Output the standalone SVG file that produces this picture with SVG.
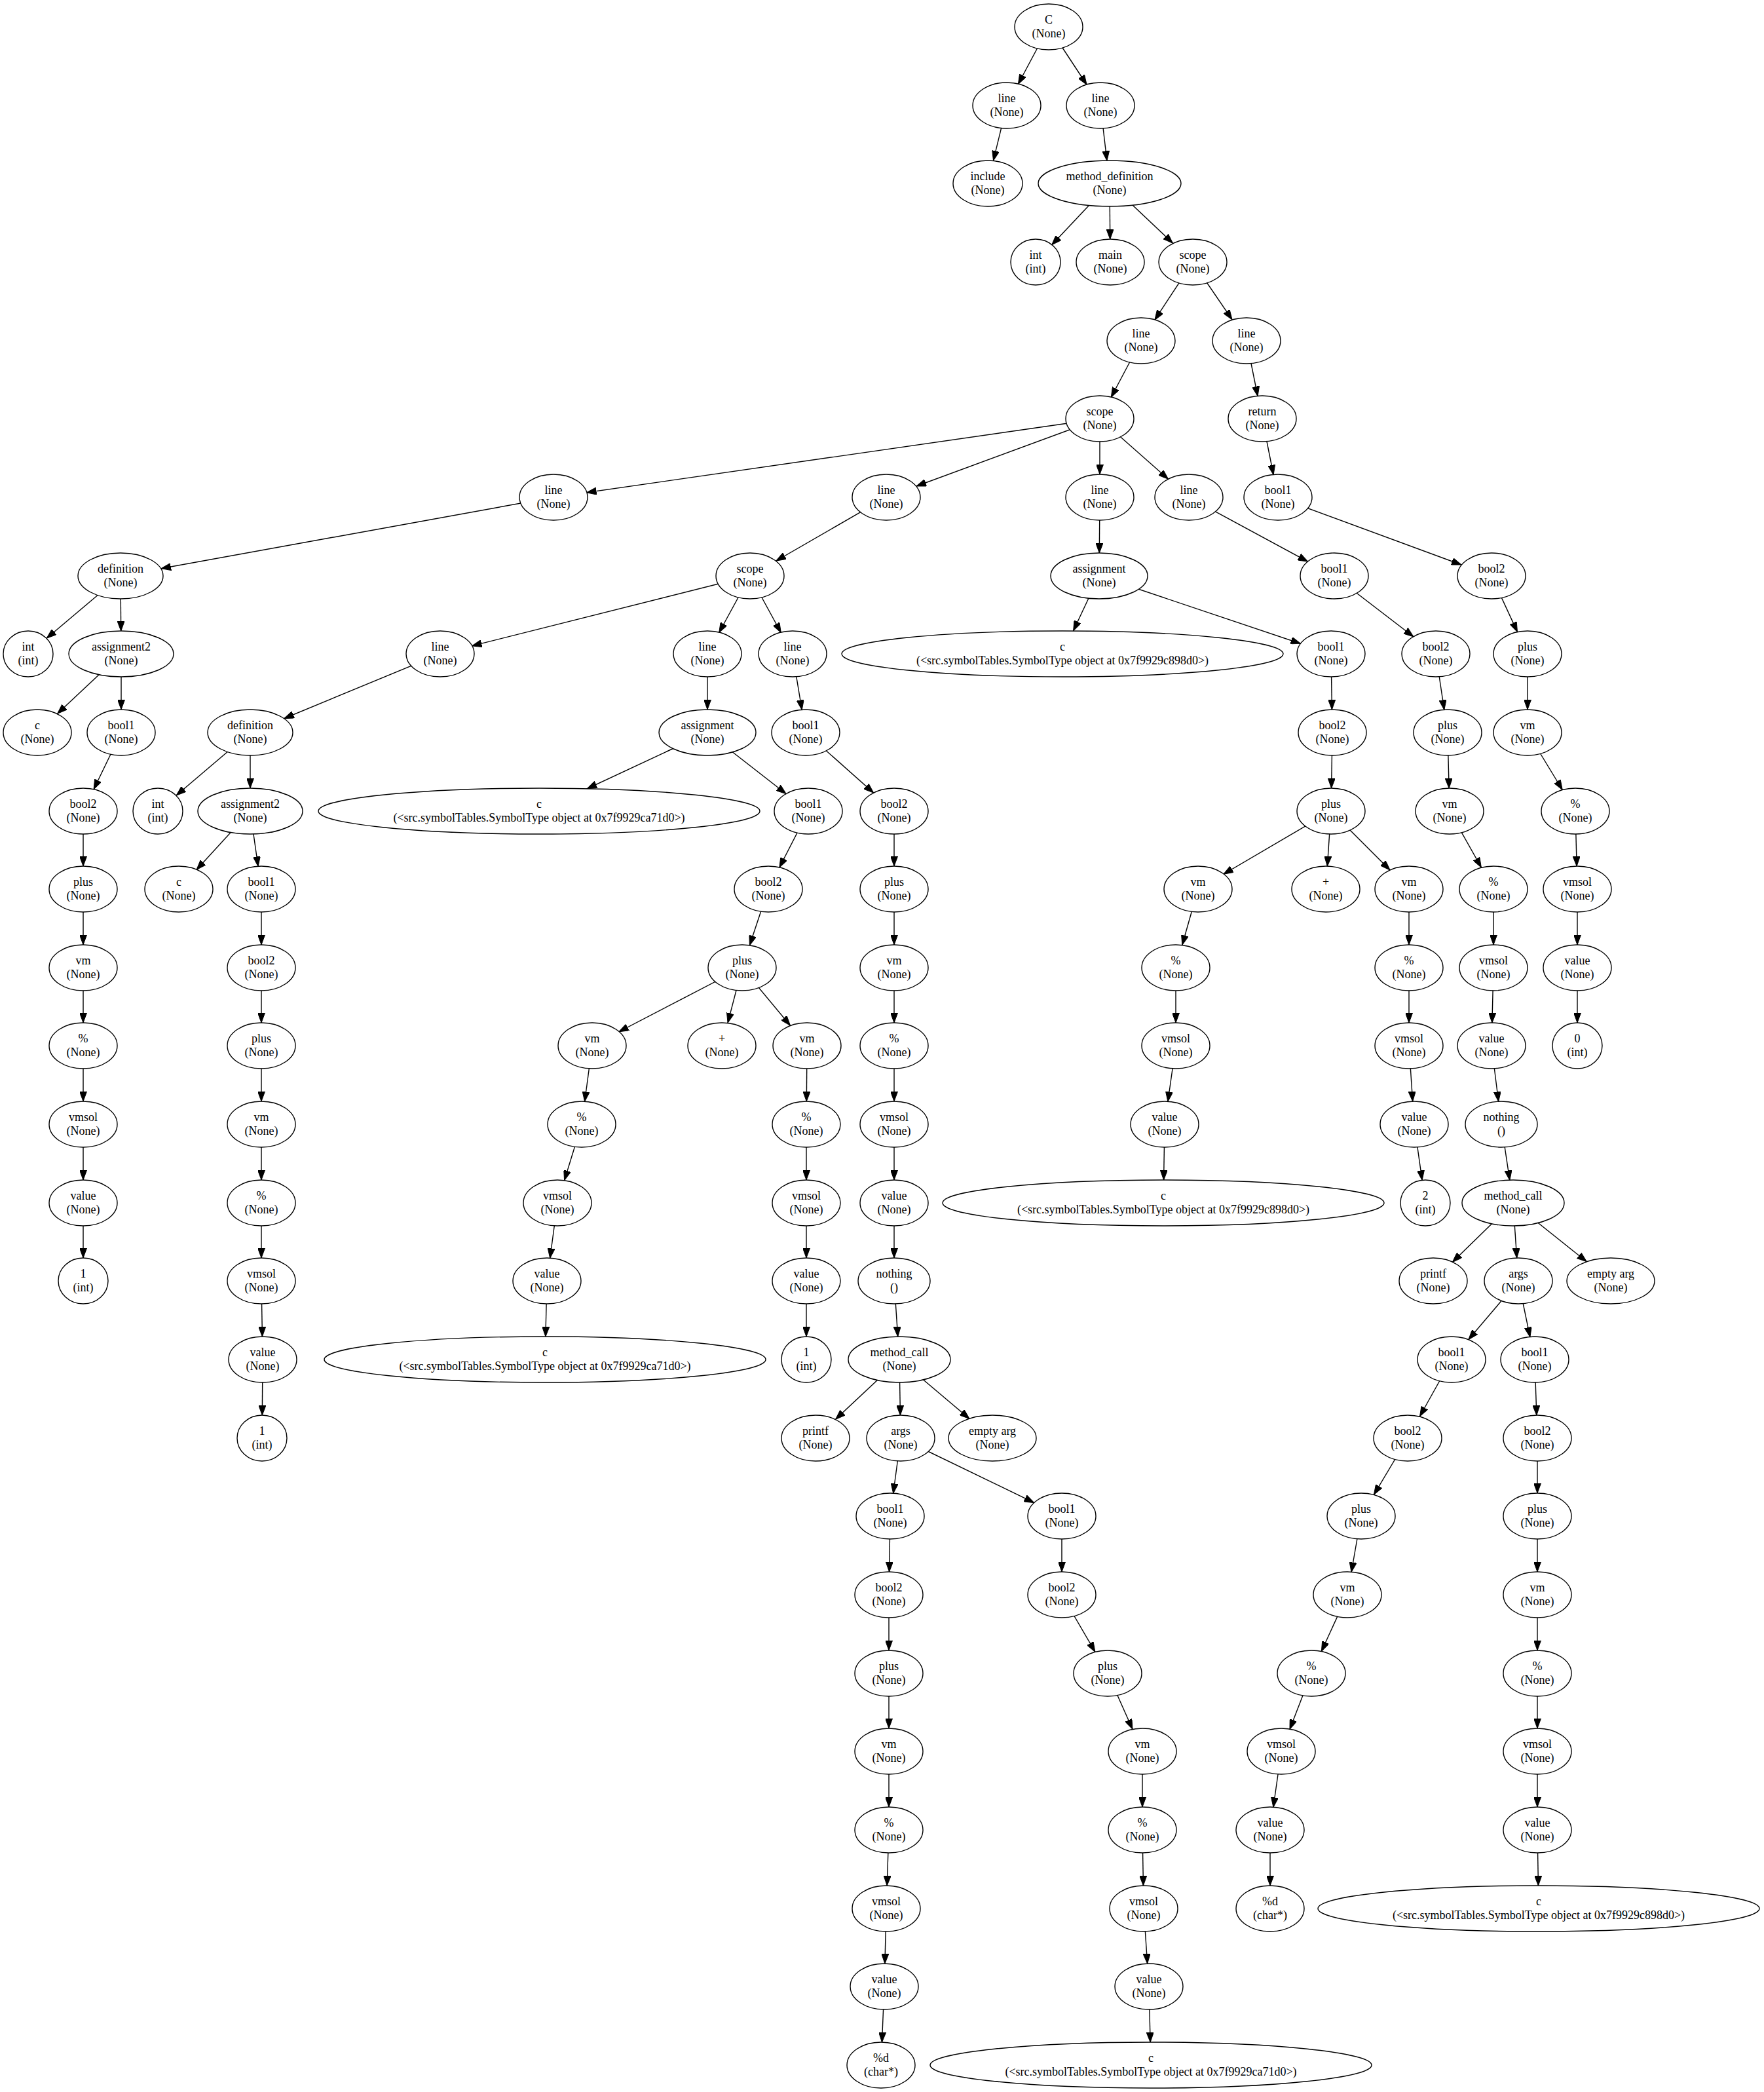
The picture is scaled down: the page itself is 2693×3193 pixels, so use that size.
<svg xmlns="http://www.w3.org/2000/svg" width="2693" height="3193" viewBox="0 0 2693 3193">
<style>
.node ellipse{fill:#fff;stroke:#000;stroke-width:1.4}
.node text{font-family:"Liberation Serif","Times New Roman",serif;font-size:18px;text-anchor:middle;fill:#000}
.edges line{stroke:#000;stroke-width:1.4}
marker path{fill:#000;stroke:#000;stroke-width:1}
</style>
<defs>
<marker id="a35" markerUnits="userSpaceOnUse" markerWidth="15" markerHeight="11" refX="50" refY="5.5" orient="auto"><path d="M0,0L15,5.5L0,11z"/></marker>
<marker id="a36" markerUnits="userSpaceOnUse" markerWidth="15" markerHeight="11" refX="51" refY="5.5" orient="auto"><path d="M0,0L15,5.5L0,11z"/></marker>
<marker id="a37" markerUnits="userSpaceOnUse" markerWidth="15" markerHeight="11" refX="52" refY="5.5" orient="auto"><path d="M0,0L15,5.5L0,11z"/></marker>
<marker id="a38" markerUnits="userSpaceOnUse" markerWidth="15" markerHeight="11" refX="53" refY="5.5" orient="auto"><path d="M0,0L15,5.5L0,11z"/></marker>
<marker id="a39" markerUnits="userSpaceOnUse" markerWidth="15" markerHeight="11" refX="54" refY="5.5" orient="auto"><path d="M0,0L15,5.5L0,11z"/></marker>
<marker id="a40" markerUnits="userSpaceOnUse" markerWidth="15" markerHeight="11" refX="55" refY="5.5" orient="auto"><path d="M0,0L15,5.5L0,11z"/></marker>
<marker id="a41" markerUnits="userSpaceOnUse" markerWidth="15" markerHeight="11" refX="56" refY="5.5" orient="auto"><path d="M0,0L15,5.5L0,11z"/></marker>
<marker id="a42" markerUnits="userSpaceOnUse" markerWidth="15" markerHeight="11" refX="57" refY="5.5" orient="auto"><path d="M0,0L15,5.5L0,11z"/></marker>
<marker id="a43" markerUnits="userSpaceOnUse" markerWidth="15" markerHeight="11" refX="58" refY="5.5" orient="auto"><path d="M0,0L15,5.5L0,11z"/></marker>
<marker id="a45" markerUnits="userSpaceOnUse" markerWidth="15" markerHeight="11" refX="60" refY="5.5" orient="auto"><path d="M0,0L15,5.5L0,11z"/></marker>
<marker id="a46" markerUnits="userSpaceOnUse" markerWidth="15" markerHeight="11" refX="61" refY="5.5" orient="auto"><path d="M0,0L15,5.5L0,11z"/></marker>
<marker id="a47" markerUnits="userSpaceOnUse" markerWidth="15" markerHeight="11" refX="62" refY="5.5" orient="auto"><path d="M0,0L15,5.5L0,11z"/></marker>
<marker id="a49" markerUnits="userSpaceOnUse" markerWidth="15" markerHeight="11" refX="64" refY="5.5" orient="auto"><path d="M0,0L15,5.5L0,11z"/></marker>
<marker id="a50" markerUnits="userSpaceOnUse" markerWidth="15" markerHeight="11" refX="65" refY="5.5" orient="auto"><path d="M0,0L15,5.5L0,11z"/></marker>
<marker id="a51" markerUnits="userSpaceOnUse" markerWidth="15" markerHeight="11" refX="66" refY="5.5" orient="auto"><path d="M0,0L15,5.5L0,11z"/></marker>
<marker id="a56" markerUnits="userSpaceOnUse" markerWidth="15" markerHeight="11" refX="71" refY="5.5" orient="auto"><path d="M0,0L15,5.5L0,11z"/></marker>
<marker id="a63" markerUnits="userSpaceOnUse" markerWidth="15" markerHeight="11" refX="78" refY="5.5" orient="auto"><path d="M0,0L15,5.5L0,11z"/></marker>
<marker id="a81" markerUnits="userSpaceOnUse" markerWidth="15" markerHeight="11" refX="96" refY="5.5" orient="auto"><path d="M0,0L15,5.5L0,11z"/></marker>
</defs>
<rect width="2693" height="3193" fill="#fff"/>
<g id="edges" class="edges">
<line x1="1601" y1="41" x2="1537" y2="161" marker-end="url(#a37)"/>
<line x1="1601" y1="41" x2="1680" y2="161" marker-end="url(#a38)"/>
<line x1="1537" y1="161" x2="1508" y2="280" marker-end="url(#a36)"/>
<line x1="1680" y1="161" x2="1694" y2="280" marker-end="url(#a35)"/>
<line x1="1694" y1="280" x2="1581" y2="400" marker-end="url(#a36)"/>
<line x1="1694" y1="280" x2="1695" y2="400" marker-end="url(#a35)"/>
<line x1="1694" y1="280" x2="1821" y2="400" marker-end="url(#a42)"/>
<line x1="1821" y1="400" x2="1742" y2="520" marker-end="url(#a38)"/>
<line x1="1821" y1="400" x2="1903" y2="520" marker-end="url(#a39)"/>
<line x1="1742" y1="520" x2="1679" y2="639" marker-end="url(#a37)"/>
<line x1="1903" y1="520" x2="1927" y2="639" marker-end="url(#a35)"/>
<line x1="1679" y1="639" x2="845" y2="759" marker-end="url(#a51)"/>
<line x1="1679" y1="639" x2="1353" y2="759" marker-end="url(#a49)"/>
<line x1="1679" y1="639" x2="1679" y2="759" marker-end="url(#a35)"/>
<line x1="1679" y1="639" x2="1815" y2="759" marker-end="url(#a42)"/>
<line x1="1927" y1="639" x2="1951" y2="759" marker-end="url(#a35)"/>
<line x1="845" y1="759" x2="184" y2="879" marker-end="url(#a63)"/>
<line x1="1353" y1="759" x2="1145" y2="879" marker-end="url(#a46)"/>
<line x1="1679" y1="759" x2="1678" y2="879" marker-end="url(#a35)"/>
<line x1="1815" y1="759" x2="2037" y2="879" marker-end="url(#a46)"/>
<line x1="1951" y1="759" x2="2277" y2="879" marker-end="url(#a49)"/>
<line x1="184" y1="879" x2="43" y2="998" marker-end="url(#a37)"/>
<line x1="184" y1="879" x2="185" y2="998" marker-end="url(#a35)"/>
<line x1="1145" y1="879" x2="672" y2="998" marker-end="url(#a50)"/>
<line x1="1145" y1="879" x2="1080" y2="998" marker-end="url(#a37)"/>
<line x1="1145" y1="879" x2="1210" y2="998" marker-end="url(#a37)"/>
<line x1="1678" y1="879" x2="1622" y2="998" marker-end="url(#a39)"/>
<line x1="1678" y1="879" x2="2032" y2="998" marker-end="url(#a49)"/>
<line x1="2037" y1="879" x2="2192" y2="998" marker-end="url(#a43)"/>
<line x1="2277" y1="879" x2="2332" y2="998" marker-end="url(#a37)"/>
<line x1="185" y1="998" x2="57" y2="1118" marker-end="url(#a42)"/>
<line x1="185" y1="998" x2="185" y2="1118" marker-end="url(#a35)"/>
<line x1="672" y1="998" x2="382" y2="1118" marker-end="url(#a56)"/>
<line x1="1080" y1="998" x2="1080" y2="1118" marker-end="url(#a35)"/>
<line x1="1210" y1="998" x2="1230" y2="1118" marker-end="url(#a35)"/>
<line x1="2032" y1="998" x2="2034" y2="1118" marker-end="url(#a35)"/>
<line x1="2192" y1="998" x2="2210" y2="1118" marker-end="url(#a35)"/>
<line x1="2332" y1="998" x2="2332" y2="1118" marker-end="url(#a35)"/>
<line x1="185" y1="1118" x2="127" y2="1238" marker-end="url(#a37)"/>
<line x1="382" y1="1118" x2="241" y2="1238" marker-end="url(#a37)"/>
<line x1="382" y1="1118" x2="382" y2="1238" marker-end="url(#a35)"/>
<line x1="1080" y1="1118" x2="823" y2="1238" marker-end="url(#a81)"/>
<line x1="1080" y1="1118" x2="1234" y2="1238" marker-end="url(#a43)"/>
<line x1="1230" y1="1118" x2="1365" y2="1238" marker-end="url(#a42)"/>
<line x1="2034" y1="1118" x2="2032" y2="1238" marker-end="url(#a35)"/>
<line x1="2210" y1="1118" x2="2213" y2="1238" marker-end="url(#a35)"/>
<line x1="2332" y1="1118" x2="2405" y2="1238" marker-end="url(#a38)"/>
<line x1="127" y1="1238" x2="127" y2="1357" marker-end="url(#a35)"/>
<line x1="382" y1="1238" x2="273" y2="1357" marker-end="url(#a40)"/>
<line x1="382" y1="1238" x2="399" y2="1357" marker-end="url(#a35)"/>
<line x1="1234" y1="1238" x2="1173" y2="1357" marker-end="url(#a37)"/>
<line x1="1365" y1="1238" x2="1365" y2="1357" marker-end="url(#a35)"/>
<line x1="2032" y1="1238" x2="1829" y2="1357" marker-end="url(#a45)"/>
<line x1="2032" y1="1238" x2="2024" y2="1357" marker-end="url(#a35)"/>
<line x1="2032" y1="1238" x2="2151" y2="1357" marker-end="url(#a41)"/>
<line x1="2213" y1="1238" x2="2280" y2="1357" marker-end="url(#a38)"/>
<line x1="2405" y1="1238" x2="2408" y2="1357" marker-end="url(#a35)"/>
<line x1="127" y1="1357" x2="127" y2="1477" marker-end="url(#a35)"/>
<line x1="399" y1="1357" x2="399" y2="1477" marker-end="url(#a35)"/>
<line x1="1173" y1="1357" x2="1133" y2="1477" marker-end="url(#a36)"/>
<line x1="1365" y1="1357" x2="1365" y2="1477" marker-end="url(#a35)"/>
<line x1="1829" y1="1357" x2="1795" y2="1477" marker-end="url(#a36)"/>
<line x1="2151" y1="1357" x2="2151" y2="1477" marker-end="url(#a35)"/>
<line x1="2280" y1="1357" x2="2280" y2="1477" marker-end="url(#a35)"/>
<line x1="2408" y1="1357" x2="2408" y2="1477" marker-end="url(#a35)"/>
<line x1="127" y1="1477" x2="127" y2="1596" marker-end="url(#a35)"/>
<line x1="399" y1="1477" x2="399" y2="1596" marker-end="url(#a35)"/>
<line x1="1133" y1="1477" x2="904" y2="1596" marker-end="url(#a46)"/>
<line x1="1133" y1="1477" x2="1102" y2="1596" marker-end="url(#a36)"/>
<line x1="1133" y1="1477" x2="1232" y2="1596" marker-end="url(#a40)"/>
<line x1="1365" y1="1477" x2="1365" y2="1596" marker-end="url(#a35)"/>
<line x1="1795" y1="1477" x2="1795" y2="1596" marker-end="url(#a35)"/>
<line x1="2151" y1="1477" x2="2151" y2="1596" marker-end="url(#a35)"/>
<line x1="2280" y1="1477" x2="2277" y2="1596" marker-end="url(#a35)"/>
<line x1="2408" y1="1477" x2="2408" y2="1596" marker-end="url(#a35)"/>
<line x1="127" y1="1596" x2="127" y2="1716" marker-end="url(#a35)"/>
<line x1="399" y1="1596" x2="399" y2="1716" marker-end="url(#a35)"/>
<line x1="904" y1="1596" x2="888" y2="1716" marker-end="url(#a35)"/>
<line x1="1232" y1="1596" x2="1231" y2="1716" marker-end="url(#a35)"/>
<line x1="1365" y1="1596" x2="1365" y2="1716" marker-end="url(#a35)"/>
<line x1="1795" y1="1596" x2="1778" y2="1716" marker-end="url(#a35)"/>
<line x1="2151" y1="1596" x2="2159" y2="1716" marker-end="url(#a35)"/>
<line x1="2277" y1="1596" x2="2292" y2="1716" marker-end="url(#a35)"/>
<line x1="127" y1="1716" x2="127" y2="1836" marker-end="url(#a35)"/>
<line x1="399" y1="1716" x2="399" y2="1836" marker-end="url(#a35)"/>
<line x1="888" y1="1716" x2="851" y2="1836" marker-end="url(#a36)"/>
<line x1="1231" y1="1716" x2="1231" y2="1836" marker-end="url(#a35)"/>
<line x1="1365" y1="1716" x2="1365" y2="1836" marker-end="url(#a35)"/>
<line x1="1778" y1="1716" x2="1776" y2="1836" marker-end="url(#a35)"/>
<line x1="2159" y1="1716" x2="2176" y2="1836" marker-end="url(#a35)"/>
<line x1="2292" y1="1716" x2="2310" y2="1836" marker-end="url(#a35)"/>
<line x1="127" y1="1836" x2="127" y2="1955" marker-end="url(#a35)"/>
<line x1="399" y1="1836" x2="399" y2="1955" marker-end="url(#a35)"/>
<line x1="851" y1="1836" x2="835" y2="1955" marker-end="url(#a35)"/>
<line x1="1231" y1="1836" x2="1231" y2="1955" marker-end="url(#a35)"/>
<line x1="1365" y1="1836" x2="1365" y2="1955" marker-end="url(#a35)"/>
<line x1="2310" y1="1836" x2="2188" y2="1955" marker-end="url(#a41)"/>
<line x1="2310" y1="1836" x2="2318" y2="1955" marker-end="url(#a35)"/>
<line x1="2310" y1="1836" x2="2459" y2="1955" marker-end="url(#a47)"/>
<line x1="399" y1="1955" x2="401" y2="2075" marker-end="url(#a35)"/>
<line x1="835" y1="1955" x2="832" y2="2075" marker-end="url(#a35)"/>
<line x1="1231" y1="1955" x2="1231" y2="2075" marker-end="url(#a35)"/>
<line x1="1365" y1="1955" x2="1373" y2="2075" marker-end="url(#a35)"/>
<line x1="2318" y1="1955" x2="2216" y2="2075" marker-end="url(#a40)"/>
<line x1="2318" y1="1955" x2="2343" y2="2075" marker-end="url(#a35)"/>
<line x1="401" y1="2075" x2="400" y2="2195" marker-end="url(#a35)"/>
<line x1="1373" y1="2075" x2="1245" y2="2195" marker-end="url(#a42)"/>
<line x1="1373" y1="2075" x2="1375" y2="2195" marker-end="url(#a35)"/>
<line x1="1373" y1="2075" x2="1515" y2="2195" marker-end="url(#a46)"/>
<line x1="2216" y1="2075" x2="2149" y2="2195" marker-end="url(#a38)"/>
<line x1="2343" y1="2075" x2="2347" y2="2195" marker-end="url(#a35)"/>
<line x1="1375" y1="2195" x2="1359" y2="2314" marker-end="url(#a35)"/>
<line x1="1375" y1="2195" x2="1621" y2="2314" marker-end="url(#a47)"/>
<line x1="2149" y1="2195" x2="2078" y2="2314" marker-end="url(#a38)"/>
<line x1="2347" y1="2195" x2="2347" y2="2314" marker-end="url(#a35)"/>
<line x1="1359" y1="2314" x2="1357" y2="2434" marker-end="url(#a35)"/>
<line x1="1621" y1="2314" x2="1621" y2="2434" marker-end="url(#a35)"/>
<line x1="2078" y1="2314" x2="2057" y2="2434" marker-end="url(#a35)"/>
<line x1="2347" y1="2314" x2="2347" y2="2434" marker-end="url(#a35)"/>
<line x1="1357" y1="2434" x2="1357" y2="2554" marker-end="url(#a35)"/>
<line x1="1621" y1="2434" x2="1691" y2="2554" marker-end="url(#a38)"/>
<line x1="2057" y1="2434" x2="2002" y2="2554" marker-end="url(#a37)"/>
<line x1="2347" y1="2434" x2="2347" y2="2554" marker-end="url(#a35)"/>
<line x1="1357" y1="2554" x2="1357" y2="2673" marker-end="url(#a35)"/>
<line x1="1691" y1="2554" x2="1744" y2="2673" marker-end="url(#a37)"/>
<line x1="2002" y1="2554" x2="1956" y2="2673" marker-end="url(#a36)"/>
<line x1="2347" y1="2554" x2="2347" y2="2673" marker-end="url(#a35)"/>
<line x1="1357" y1="2673" x2="1357" y2="2793" marker-end="url(#a35)"/>
<line x1="1744" y1="2673" x2="1744" y2="2793" marker-end="url(#a35)"/>
<line x1="1956" y1="2673" x2="1939" y2="2793" marker-end="url(#a35)"/>
<line x1="2347" y1="2673" x2="2347" y2="2793" marker-end="url(#a35)"/>
<line x1="1357" y1="2793" x2="1353" y2="2913" marker-end="url(#a35)"/>
<line x1="1744" y1="2793" x2="1746" y2="2913" marker-end="url(#a35)"/>
<line x1="1939" y1="2793" x2="1939" y2="2913" marker-end="url(#a35)"/>
<line x1="2347" y1="2793" x2="2349" y2="2913" marker-end="url(#a35)"/>
<line x1="1353" y1="2913" x2="1350" y2="3032" marker-end="url(#a35)"/>
<line x1="1746" y1="2913" x2="1754" y2="3032" marker-end="url(#a35)"/>
<line x1="1350" y1="3032" x2="1345" y2="3152" marker-end="url(#a35)"/>
<line x1="1754" y1="3032" x2="1757" y2="3152" marker-end="url(#a35)"/>
</g>
<g id="n0" class="node"><ellipse cx="1601" cy="41" rx="52" ry="35"/><text x="1601" y="36">C<tspan x="1601" dy="20.5">(None)</tspan></text></g>
<g id="n1" class="node"><ellipse cx="1537" cy="161" rx="52" ry="35"/><text x="1537" y="156">line<tspan x="1537" dy="20.5">(None)</tspan></text></g>
<g id="n2" class="node"><ellipse cx="1680" cy="161" rx="52" ry="35"/><text x="1680" y="156">line<tspan x="1680" dy="20.5">(None)</tspan></text></g>
<g id="n3" class="node"><ellipse cx="1508" cy="280" rx="53" ry="35"/><text x="1508" y="275">include<tspan x="1508" dy="20.5">(None)</tspan></text></g>
<g id="n4" class="node"><ellipse cx="1694" cy="280" rx="109" ry="35"/><text x="1694" y="275">method_definition<tspan x="1694" dy="20.5">(None)</tspan></text></g>
<g id="n5" class="node"><ellipse cx="1581" cy="400" rx="38" ry="35"/><text x="1581" y="395">int<tspan x="1581" dy="20.5">(int)</tspan></text></g>
<g id="n6" class="node"><ellipse cx="1695" cy="400" rx="52" ry="35"/><text x="1695" y="395">main<tspan x="1695" dy="20.5">(None)</tspan></text></g>
<g id="n7" class="node"><ellipse cx="1821" cy="400" rx="52" ry="35"/><text x="1821" y="395">scope<tspan x="1821" dy="20.5">(None)</tspan></text></g>
<g id="n8" class="node"><ellipse cx="1742" cy="520" rx="52" ry="35"/><text x="1742" y="515">line<tspan x="1742" dy="20.5">(None)</tspan></text></g>
<g id="n9" class="node"><ellipse cx="1903" cy="520" rx="52" ry="35"/><text x="1903" y="515">line<tspan x="1903" dy="20.5">(None)</tspan></text></g>
<g id="n10" class="node"><ellipse cx="1679" cy="639" rx="52" ry="35"/><text x="1679" y="634">scope<tspan x="1679" dy="20.5">(None)</tspan></text></g>
<g id="n11" class="node"><ellipse cx="1927" cy="639" rx="52" ry="35"/><text x="1927" y="634">return<tspan x="1927" dy="20.5">(None)</tspan></text></g>
<g id="n12" class="node"><ellipse cx="845" cy="759" rx="52" ry="35"/><text x="845" y="754">line<tspan x="845" dy="20.5">(None)</tspan></text></g>
<g id="n13" class="node"><ellipse cx="1353" cy="759" rx="52" ry="35"/><text x="1353" y="754">line<tspan x="1353" dy="20.5">(None)</tspan></text></g>
<g id="n14" class="node"><ellipse cx="1679" cy="759" rx="52" ry="35"/><text x="1679" y="754">line<tspan x="1679" dy="20.5">(None)</tspan></text></g>
<g id="n15" class="node"><ellipse cx="1815" cy="759" rx="52" ry="35"/><text x="1815" y="754">line<tspan x="1815" dy="20.5">(None)</tspan></text></g>
<g id="n16" class="node"><ellipse cx="1951" cy="759" rx="52" ry="35"/><text x="1951" y="754">bool1<tspan x="1951" dy="20.5">(None)</tspan></text></g>
<g id="n17" class="node"><ellipse cx="184" cy="879" rx="65" ry="35"/><text x="184" y="874">definition<tspan x="184" dy="20.5">(None)</tspan></text></g>
<g id="n18" class="node"><ellipse cx="1145" cy="879" rx="52" ry="35"/><text x="1145" y="874">scope<tspan x="1145" dy="20.5">(None)</tspan></text></g>
<g id="n19" class="node"><ellipse cx="1678" cy="879" rx="74" ry="35"/><text x="1678" y="874">assignment<tspan x="1678" dy="20.5">(None)</tspan></text></g>
<g id="n20" class="node"><ellipse cx="2037" cy="879" rx="52" ry="35"/><text x="2037" y="874">bool1<tspan x="2037" dy="20.5">(None)</tspan></text></g>
<g id="n21" class="node"><ellipse cx="2277" cy="879" rx="52" ry="35"/><text x="2277" y="874">bool2<tspan x="2277" dy="20.5">(None)</tspan></text></g>
<g id="n22" class="node"><ellipse cx="43" cy="998" rx="38" ry="35"/><text x="43" y="993">int<tspan x="43" dy="20.5">(int)</tspan></text></g>
<g id="n23" class="node"><ellipse cx="185" cy="998" rx="80" ry="35"/><text x="185" y="993">assignment2<tspan x="185" dy="20.5">(None)</tspan></text></g>
<g id="n24" class="node"><ellipse cx="672" cy="998" rx="52" ry="35"/><text x="672" y="993">line<tspan x="672" dy="20.5">(None)</tspan></text></g>
<g id="n25" class="node"><ellipse cx="1080" cy="998" rx="52" ry="35"/><text x="1080" y="993">line<tspan x="1080" dy="20.5">(None)</tspan></text></g>
<g id="n26" class="node"><ellipse cx="1210" cy="998" rx="52" ry="35"/><text x="1210" y="993">line<tspan x="1210" dy="20.5">(None)</tspan></text></g>
<g id="n27" class="node"><ellipse cx="1622" cy="998" rx="337" ry="35"/><text x="1622" y="993">c<tspan x="1622" dy="20.5">(&lt;src.symbolTables.SymbolType object at 0x7f9929c898d0&gt;)</tspan></text></g>
<g id="n28" class="node"><ellipse cx="2032" cy="998" rx="52" ry="35"/><text x="2032" y="993">bool1<tspan x="2032" dy="20.5">(None)</tspan></text></g>
<g id="n29" class="node"><ellipse cx="2192" cy="998" rx="52" ry="35"/><text x="2192" y="993">bool2<tspan x="2192" dy="20.5">(None)</tspan></text></g>
<g id="n30" class="node"><ellipse cx="2332" cy="998" rx="52" ry="35"/><text x="2332" y="993">plus<tspan x="2332" dy="20.5">(None)</tspan></text></g>
<g id="n31" class="node"><ellipse cx="57" cy="1118" rx="52" ry="35"/><text x="57" y="1113">c<tspan x="57" dy="20.5">(None)</tspan></text></g>
<g id="n32" class="node"><ellipse cx="185" cy="1118" rx="52" ry="35"/><text x="185" y="1113">bool1<tspan x="185" dy="20.5">(None)</tspan></text></g>
<g id="n33" class="node"><ellipse cx="382" cy="1118" rx="65" ry="35"/><text x="382" y="1113">definition<tspan x="382" dy="20.5">(None)</tspan></text></g>
<g id="n34" class="node"><ellipse cx="1080" cy="1118" rx="74" ry="35"/><text x="1080" y="1113">assignment<tspan x="1080" dy="20.5">(None)</tspan></text></g>
<g id="n35" class="node"><ellipse cx="1230" cy="1118" rx="52" ry="35"/><text x="1230" y="1113">bool1<tspan x="1230" dy="20.5">(None)</tspan></text></g>
<g id="n36" class="node"><ellipse cx="2034" cy="1118" rx="52" ry="35"/><text x="2034" y="1113">bool2<tspan x="2034" dy="20.5">(None)</tspan></text></g>
<g id="n37" class="node"><ellipse cx="2210" cy="1118" rx="52" ry="35"/><text x="2210" y="1113">plus<tspan x="2210" dy="20.5">(None)</tspan></text></g>
<g id="n38" class="node"><ellipse cx="2332" cy="1118" rx="52" ry="35"/><text x="2332" y="1113">vm<tspan x="2332" dy="20.5">(None)</tspan></text></g>
<g id="n39" class="node"><ellipse cx="127" cy="1238" rx="52" ry="35"/><text x="127" y="1233">bool2<tspan x="127" dy="20.5">(None)</tspan></text></g>
<g id="n40" class="node"><ellipse cx="241" cy="1238" rx="38" ry="35"/><text x="241" y="1233">int<tspan x="241" dy="20.5">(int)</tspan></text></g>
<g id="n41" class="node"><ellipse cx="382" cy="1238" rx="80" ry="35"/><text x="382" y="1233">assignment2<tspan x="382" dy="20.5">(None)</tspan></text></g>
<g id="n42" class="node"><ellipse cx="823" cy="1238" rx="337" ry="35"/><text x="823" y="1233">c<tspan x="823" dy="20.5">(&lt;src.symbolTables.SymbolType object at 0x7f9929ca71d0&gt;)</tspan></text></g>
<g id="n43" class="node"><ellipse cx="1234" cy="1238" rx="52" ry="35"/><text x="1234" y="1233">bool1<tspan x="1234" dy="20.5">(None)</tspan></text></g>
<g id="n44" class="node"><ellipse cx="1365" cy="1238" rx="52" ry="35"/><text x="1365" y="1233">bool2<tspan x="1365" dy="20.5">(None)</tspan></text></g>
<g id="n45" class="node"><ellipse cx="2032" cy="1238" rx="52" ry="35"/><text x="2032" y="1233">plus<tspan x="2032" dy="20.5">(None)</tspan></text></g>
<g id="n46" class="node"><ellipse cx="2213" cy="1238" rx="52" ry="35"/><text x="2213" y="1233">vm<tspan x="2213" dy="20.5">(None)</tspan></text></g>
<g id="n47" class="node"><ellipse cx="2405" cy="1238" rx="52" ry="35"/><text x="2405" y="1233">%<tspan x="2405" dy="20.5">(None)</tspan></text></g>
<g id="n48" class="node"><ellipse cx="127" cy="1357" rx="52" ry="35"/><text x="127" y="1352">plus<tspan x="127" dy="20.5">(None)</tspan></text></g>
<g id="n49" class="node"><ellipse cx="273" cy="1357" rx="52" ry="35"/><text x="273" y="1352">c<tspan x="273" dy="20.5">(None)</tspan></text></g>
<g id="n50" class="node"><ellipse cx="399" cy="1357" rx="52" ry="35"/><text x="399" y="1352">bool1<tspan x="399" dy="20.5">(None)</tspan></text></g>
<g id="n51" class="node"><ellipse cx="1173" cy="1357" rx="52" ry="35"/><text x="1173" y="1352">bool2<tspan x="1173" dy="20.5">(None)</tspan></text></g>
<g id="n52" class="node"><ellipse cx="1365" cy="1357" rx="52" ry="35"/><text x="1365" y="1352">plus<tspan x="1365" dy="20.5">(None)</tspan></text></g>
<g id="n53" class="node"><ellipse cx="1829" cy="1357" rx="52" ry="35"/><text x="1829" y="1352">vm<tspan x="1829" dy="20.5">(None)</tspan></text></g>
<g id="n54" class="node"><ellipse cx="2024" cy="1357" rx="52" ry="35"/><text x="2024" y="1352">+<tspan x="2024" dy="20.5">(None)</tspan></text></g>
<g id="n55" class="node"><ellipse cx="2151" cy="1357" rx="52" ry="35"/><text x="2151" y="1352">vm<tspan x="2151" dy="20.5">(None)</tspan></text></g>
<g id="n56" class="node"><ellipse cx="2280" cy="1357" rx="52" ry="35"/><text x="2280" y="1352">%<tspan x="2280" dy="20.5">(None)</tspan></text></g>
<g id="n57" class="node"><ellipse cx="2408" cy="1357" rx="52" ry="35"/><text x="2408" y="1352">vmsol<tspan x="2408" dy="20.5">(None)</tspan></text></g>
<g id="n58" class="node"><ellipse cx="127" cy="1477" rx="52" ry="35"/><text x="127" y="1472">vm<tspan x="127" dy="20.5">(None)</tspan></text></g>
<g id="n59" class="node"><ellipse cx="399" cy="1477" rx="52" ry="35"/><text x="399" y="1472">bool2<tspan x="399" dy="20.5">(None)</tspan></text></g>
<g id="n60" class="node"><ellipse cx="1133" cy="1477" rx="52" ry="35"/><text x="1133" y="1472">plus<tspan x="1133" dy="20.5">(None)</tspan></text></g>
<g id="n61" class="node"><ellipse cx="1365" cy="1477" rx="52" ry="35"/><text x="1365" y="1472">vm<tspan x="1365" dy="20.5">(None)</tspan></text></g>
<g id="n62" class="node"><ellipse cx="1795" cy="1477" rx="52" ry="35"/><text x="1795" y="1472">%<tspan x="1795" dy="20.5">(None)</tspan></text></g>
<g id="n63" class="node"><ellipse cx="2151" cy="1477" rx="52" ry="35"/><text x="2151" y="1472">%<tspan x="2151" dy="20.5">(None)</tspan></text></g>
<g id="n64" class="node"><ellipse cx="2280" cy="1477" rx="52" ry="35"/><text x="2280" y="1472">vmsol<tspan x="2280" dy="20.5">(None)</tspan></text></g>
<g id="n65" class="node"><ellipse cx="2408" cy="1477" rx="52" ry="35"/><text x="2408" y="1472">value<tspan x="2408" dy="20.5">(None)</tspan></text></g>
<g id="n66" class="node"><ellipse cx="127" cy="1596" rx="52" ry="35"/><text x="127" y="1591">%<tspan x="127" dy="20.5">(None)</tspan></text></g>
<g id="n67" class="node"><ellipse cx="399" cy="1596" rx="52" ry="35"/><text x="399" y="1591">plus<tspan x="399" dy="20.5">(None)</tspan></text></g>
<g id="n68" class="node"><ellipse cx="904" cy="1596" rx="52" ry="35"/><text x="904" y="1591">vm<tspan x="904" dy="20.5">(None)</tspan></text></g>
<g id="n69" class="node"><ellipse cx="1102" cy="1596" rx="52" ry="35"/><text x="1102" y="1591">+<tspan x="1102" dy="20.5">(None)</tspan></text></g>
<g id="n70" class="node"><ellipse cx="1232" cy="1596" rx="52" ry="35"/><text x="1232" y="1591">vm<tspan x="1232" dy="20.5">(None)</tspan></text></g>
<g id="n71" class="node"><ellipse cx="1365" cy="1596" rx="52" ry="35"/><text x="1365" y="1591">%<tspan x="1365" dy="20.5">(None)</tspan></text></g>
<g id="n72" class="node"><ellipse cx="1795" cy="1596" rx="52" ry="35"/><text x="1795" y="1591">vmsol<tspan x="1795" dy="20.5">(None)</tspan></text></g>
<g id="n73" class="node"><ellipse cx="2151" cy="1596" rx="52" ry="35"/><text x="2151" y="1591">vmsol<tspan x="2151" dy="20.5">(None)</tspan></text></g>
<g id="n74" class="node"><ellipse cx="2277" cy="1596" rx="52" ry="35"/><text x="2277" y="1591">value<tspan x="2277" dy="20.5">(None)</tspan></text></g>
<g id="n75" class="node"><ellipse cx="2408" cy="1596" rx="38" ry="35"/><text x="2408" y="1591">0<tspan x="2408" dy="20.5">(int)</tspan></text></g>
<g id="n76" class="node"><ellipse cx="127" cy="1716" rx="52" ry="35"/><text x="127" y="1711">vmsol<tspan x="127" dy="20.5">(None)</tspan></text></g>
<g id="n77" class="node"><ellipse cx="399" cy="1716" rx="52" ry="35"/><text x="399" y="1711">vm<tspan x="399" dy="20.5">(None)</tspan></text></g>
<g id="n78" class="node"><ellipse cx="888" cy="1716" rx="52" ry="35"/><text x="888" y="1711">%<tspan x="888" dy="20.5">(None)</tspan></text></g>
<g id="n79" class="node"><ellipse cx="1231" cy="1716" rx="52" ry="35"/><text x="1231" y="1711">%<tspan x="1231" dy="20.5">(None)</tspan></text></g>
<g id="n80" class="node"><ellipse cx="1365" cy="1716" rx="52" ry="35"/><text x="1365" y="1711">vmsol<tspan x="1365" dy="20.5">(None)</tspan></text></g>
<g id="n81" class="node"><ellipse cx="1778" cy="1716" rx="52" ry="35"/><text x="1778" y="1711">value<tspan x="1778" dy="20.5">(None)</tspan></text></g>
<g id="n82" class="node"><ellipse cx="2159" cy="1716" rx="52" ry="35"/><text x="2159" y="1711">value<tspan x="2159" dy="20.5">(None)</tspan></text></g>
<g id="n83" class="node"><ellipse cx="2292" cy="1716" rx="55" ry="35"/><text x="2292" y="1711">nothing<tspan x="2292" dy="20.5">()</tspan></text></g>
<g id="n84" class="node"><ellipse cx="127" cy="1836" rx="52" ry="35"/><text x="127" y="1831">value<tspan x="127" dy="20.5">(None)</tspan></text></g>
<g id="n85" class="node"><ellipse cx="399" cy="1836" rx="52" ry="35"/><text x="399" y="1831">%<tspan x="399" dy="20.5">(None)</tspan></text></g>
<g id="n86" class="node"><ellipse cx="851" cy="1836" rx="52" ry="35"/><text x="851" y="1831">vmsol<tspan x="851" dy="20.5">(None)</tspan></text></g>
<g id="n87" class="node"><ellipse cx="1231" cy="1836" rx="52" ry="35"/><text x="1231" y="1831">vmsol<tspan x="1231" dy="20.5">(None)</tspan></text></g>
<g id="n88" class="node"><ellipse cx="1365" cy="1836" rx="52" ry="35"/><text x="1365" y="1831">value<tspan x="1365" dy="20.5">(None)</tspan></text></g>
<g id="n89" class="node"><ellipse cx="1776" cy="1836" rx="337" ry="35"/><text x="1776" y="1831">c<tspan x="1776" dy="20.5">(&lt;src.symbolTables.SymbolType object at 0x7f9929c898d0&gt;)</tspan></text></g>
<g id="n90" class="node"><ellipse cx="2176" cy="1836" rx="38" ry="35"/><text x="2176" y="1831">2<tspan x="2176" dy="20.5">(int)</tspan></text></g>
<g id="n91" class="node"><ellipse cx="2310" cy="1836" rx="78" ry="35"/><text x="2310" y="1831">method_call<tspan x="2310" dy="20.5">(None)</tspan></text></g>
<g id="n92" class="node"><ellipse cx="127" cy="1955" rx="38" ry="35"/><text x="127" y="1950">1<tspan x="127" dy="20.5">(int)</tspan></text></g>
<g id="n93" class="node"><ellipse cx="399" cy="1955" rx="52" ry="35"/><text x="399" y="1950">vmsol<tspan x="399" dy="20.5">(None)</tspan></text></g>
<g id="n94" class="node"><ellipse cx="835" cy="1955" rx="52" ry="35"/><text x="835" y="1950">value<tspan x="835" dy="20.5">(None)</tspan></text></g>
<g id="n95" class="node"><ellipse cx="1231" cy="1955" rx="52" ry="35"/><text x="1231" y="1950">value<tspan x="1231" dy="20.5">(None)</tspan></text></g>
<g id="n96" class="node"><ellipse cx="1365" cy="1955" rx="55" ry="35"/><text x="1365" y="1950">nothing<tspan x="1365" dy="20.5">()</tspan></text></g>
<g id="n97" class="node"><ellipse cx="2188" cy="1955" rx="52" ry="35"/><text x="2188" y="1950">printf<tspan x="2188" dy="20.5">(None)</tspan></text></g>
<g id="n98" class="node"><ellipse cx="2318" cy="1955" rx="52" ry="35"/><text x="2318" y="1950">args<tspan x="2318" dy="20.5">(None)</tspan></text></g>
<g id="n99" class="node"><ellipse cx="2459" cy="1955" rx="67" ry="35"/><text x="2459" y="1950">empty arg<tspan x="2459" dy="20.5">(None)</tspan></text></g>
<g id="n100" class="node"><ellipse cx="401" cy="2075" rx="52" ry="35"/><text x="401" y="2070">value<tspan x="401" dy="20.5">(None)</tspan></text></g>
<g id="n101" class="node"><ellipse cx="832" cy="2075" rx="337" ry="35"/><text x="832" y="2070">c<tspan x="832" dy="20.5">(&lt;src.symbolTables.SymbolType object at 0x7f9929ca71d0&gt;)</tspan></text></g>
<g id="n102" class="node"><ellipse cx="1231" cy="2075" rx="38" ry="35"/><text x="1231" y="2070">1<tspan x="1231" dy="20.5">(int)</tspan></text></g>
<g id="n103" class="node"><ellipse cx="1373" cy="2075" rx="78" ry="35"/><text x="1373" y="2070">method_call<tspan x="1373" dy="20.5">(None)</tspan></text></g>
<g id="n104" class="node"><ellipse cx="2216" cy="2075" rx="52" ry="35"/><text x="2216" y="2070">bool1<tspan x="2216" dy="20.5">(None)</tspan></text></g>
<g id="n105" class="node"><ellipse cx="2343" cy="2075" rx="52" ry="35"/><text x="2343" y="2070">bool1<tspan x="2343" dy="20.5">(None)</tspan></text></g>
<g id="n106" class="node"><ellipse cx="400" cy="2195" rx="38" ry="35"/><text x="400" y="2190">1<tspan x="400" dy="20.5">(int)</tspan></text></g>
<g id="n107" class="node"><ellipse cx="1245" cy="2195" rx="52" ry="35"/><text x="1245" y="2190">printf<tspan x="1245" dy="20.5">(None)</tspan></text></g>
<g id="n108" class="node"><ellipse cx="1375" cy="2195" rx="52" ry="35"/><text x="1375" y="2190">args<tspan x="1375" dy="20.5">(None)</tspan></text></g>
<g id="n109" class="node"><ellipse cx="1515" cy="2195" rx="67" ry="35"/><text x="1515" y="2190">empty arg<tspan x="1515" dy="20.5">(None)</tspan></text></g>
<g id="n110" class="node"><ellipse cx="2149" cy="2195" rx="52" ry="35"/><text x="2149" y="2190">bool2<tspan x="2149" dy="20.5">(None)</tspan></text></g>
<g id="n111" class="node"><ellipse cx="2347" cy="2195" rx="52" ry="35"/><text x="2347" y="2190">bool2<tspan x="2347" dy="20.5">(None)</tspan></text></g>
<g id="n112" class="node"><ellipse cx="1359" cy="2314" rx="52" ry="35"/><text x="1359" y="2309">bool1<tspan x="1359" dy="20.5">(None)</tspan></text></g>
<g id="n113" class="node"><ellipse cx="1621" cy="2314" rx="52" ry="35"/><text x="1621" y="2309">bool1<tspan x="1621" dy="20.5">(None)</tspan></text></g>
<g id="n114" class="node"><ellipse cx="2078" cy="2314" rx="52" ry="35"/><text x="2078" y="2309">plus<tspan x="2078" dy="20.5">(None)</tspan></text></g>
<g id="n115" class="node"><ellipse cx="2347" cy="2314" rx="52" ry="35"/><text x="2347" y="2309">plus<tspan x="2347" dy="20.5">(None)</tspan></text></g>
<g id="n116" class="node"><ellipse cx="1357" cy="2434" rx="52" ry="35"/><text x="1357" y="2429">bool2<tspan x="1357" dy="20.5">(None)</tspan></text></g>
<g id="n117" class="node"><ellipse cx="1621" cy="2434" rx="52" ry="35"/><text x="1621" y="2429">bool2<tspan x="1621" dy="20.5">(None)</tspan></text></g>
<g id="n118" class="node"><ellipse cx="2057" cy="2434" rx="52" ry="35"/><text x="2057" y="2429">vm<tspan x="2057" dy="20.5">(None)</tspan></text></g>
<g id="n119" class="node"><ellipse cx="2347" cy="2434" rx="52" ry="35"/><text x="2347" y="2429">vm<tspan x="2347" dy="20.5">(None)</tspan></text></g>
<g id="n120" class="node"><ellipse cx="1357" cy="2554" rx="52" ry="35"/><text x="1357" y="2549">plus<tspan x="1357" dy="20.5">(None)</tspan></text></g>
<g id="n121" class="node"><ellipse cx="1691" cy="2554" rx="52" ry="35"/><text x="1691" y="2549">plus<tspan x="1691" dy="20.5">(None)</tspan></text></g>
<g id="n122" class="node"><ellipse cx="2002" cy="2554" rx="52" ry="35"/><text x="2002" y="2549">%<tspan x="2002" dy="20.5">(None)</tspan></text></g>
<g id="n123" class="node"><ellipse cx="2347" cy="2554" rx="52" ry="35"/><text x="2347" y="2549">%<tspan x="2347" dy="20.5">(None)</tspan></text></g>
<g id="n124" class="node"><ellipse cx="1357" cy="2673" rx="52" ry="35"/><text x="1357" y="2668">vm<tspan x="1357" dy="20.5">(None)</tspan></text></g>
<g id="n125" class="node"><ellipse cx="1744" cy="2673" rx="52" ry="35"/><text x="1744" y="2668">vm<tspan x="1744" dy="20.5">(None)</tspan></text></g>
<g id="n126" class="node"><ellipse cx="1956" cy="2673" rx="52" ry="35"/><text x="1956" y="2668">vmsol<tspan x="1956" dy="20.5">(None)</tspan></text></g>
<g id="n127" class="node"><ellipse cx="2347" cy="2673" rx="52" ry="35"/><text x="2347" y="2668">vmsol<tspan x="2347" dy="20.5">(None)</tspan></text></g>
<g id="n128" class="node"><ellipse cx="1357" cy="2793" rx="52" ry="35"/><text x="1357" y="2788">%<tspan x="1357" dy="20.5">(None)</tspan></text></g>
<g id="n129" class="node"><ellipse cx="1744" cy="2793" rx="52" ry="35"/><text x="1744" y="2788">%<tspan x="1744" dy="20.5">(None)</tspan></text></g>
<g id="n130" class="node"><ellipse cx="1939" cy="2793" rx="52" ry="35"/><text x="1939" y="2788">value<tspan x="1939" dy="20.5">(None)</tspan></text></g>
<g id="n131" class="node"><ellipse cx="2347" cy="2793" rx="52" ry="35"/><text x="2347" y="2788">value<tspan x="2347" dy="20.5">(None)</tspan></text></g>
<g id="n132" class="node"><ellipse cx="1353" cy="2913" rx="52" ry="35"/><text x="1353" y="2908">vmsol<tspan x="1353" dy="20.5">(None)</tspan></text></g>
<g id="n133" class="node"><ellipse cx="1746" cy="2913" rx="52" ry="35"/><text x="1746" y="2908">vmsol<tspan x="1746" dy="20.5">(None)</tspan></text></g>
<g id="n134" class="node"><ellipse cx="1939" cy="2913" rx="52" ry="35"/><text x="1939" y="2908">%d<tspan x="1939" dy="20.5">(char*)</tspan></text></g>
<g id="n135" class="node"><ellipse cx="2349" cy="2913" rx="337" ry="35"/><text x="2349" y="2908">c<tspan x="2349" dy="20.5">(&lt;src.symbolTables.SymbolType object at 0x7f9929c898d0&gt;)</tspan></text></g>
<g id="n136" class="node"><ellipse cx="1350" cy="3032" rx="52" ry="35"/><text x="1350" y="3027">value<tspan x="1350" dy="20.5">(None)</tspan></text></g>
<g id="n137" class="node"><ellipse cx="1754" cy="3032" rx="52" ry="35"/><text x="1754" y="3027">value<tspan x="1754" dy="20.5">(None)</tspan></text></g>
<g id="n138" class="node"><ellipse cx="1345" cy="3152" rx="52" ry="35"/><text x="1345" y="3147">%d<tspan x="1345" dy="20.5">(char*)</tspan></text></g>
<g id="n139" class="node"><ellipse cx="1757" cy="3152" rx="337" ry="35"/><text x="1757" y="3147">c<tspan x="1757" dy="20.5">(&lt;src.symbolTables.SymbolType object at 0x7f9929ca71d0&gt;)</tspan></text></g>
</svg>
